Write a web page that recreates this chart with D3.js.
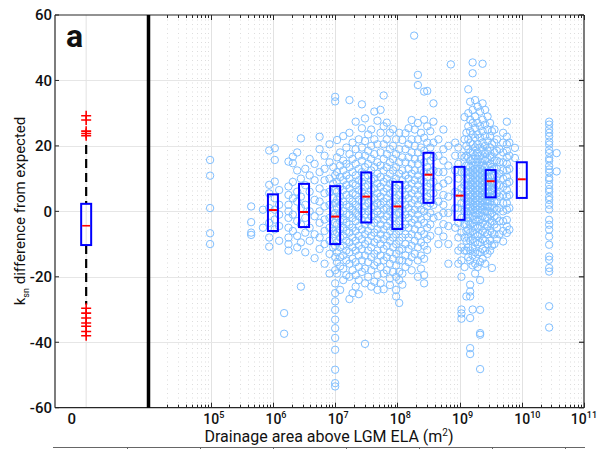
<!DOCTYPE html>
<html>
<head>
<meta charset="utf-8">
<script src="https://cdn.jsdelivr.net/npm/d3@7"></script>
<style>
  html, body { margin: 0; padding: 0; background: #fff; }
  svg { display: block; font-family: Roboto, "DejaVu Sans", sans-serif; }
</style>
</head>
<body>
<svg id="chart" width="598" height="449"></svg>
<script>
// ---- values ----
const yTicks = [-60, -40, -20, 0, 20, 40, 60];
const decadeExps = [5, 6, 7, 8, 9, 10, 11];
const groupLabel = "0";

// all basins: whisker low, Q1, median, Q3, whisker high
const allStats = [-28.5, -10.3, -4.4, 2.3, 20.3];
const allOutliers = [29.2, 27.9, 24.5, 23.8, 23.1, -29.6, -31.1, -32.6, -34.1, -35.1, -36.7, -38.0];

// binned by drainage area (log10 m^2)
const binCentres = [6.0, 6.5, 7.0, 7.5, 8.0, 8.5, 9.0, 9.5, 10.0];
const binQ1 = [-6.0, -4.8, -10.0, -3.4, -5.4, 2.6, -2.6, 4.3, 4.1];
const binMedian = [0.4, -0.2, -1.6, 4.5, 1.5, 11.2, 4.8, 9.2, 9.8];
const binQ3 = [5.2, 8.4, 7.7, 11.9, 9.0, 17.9, 13.6, 12.6, 15.0];

// individual basins: [log10 drainage area, ksn difference values]
const basins5 = [
  [4.99, [15.7, 10.9, 1.0, -6.7, -10.0]],
  [5.65, [1.5, -3.3, -6.5, -7.2]],
  [5.84, [0.5, -5.0]],
  [5.94, [18.6, 8.1, 5.5, 1.0, -3.5, -8.0, -10.8]]
];
const basins6 = [
  [6.03, [19.3, 15.7, 9.1, 4.0, 0.5, -2.5, -5.5]],
  [6.10, [6.5, 2.0, -1.0, -4.5, -9.0]],
  [6.18, [-31.1, -37.4]],
  [6.25, [15.2, 7.6, 5.0, 2.0, 0.0, -2.0, -5.0, -8.0, -10.0, -12.0]],
  [6.32, [16.7, 14.7, 9.0, 4.0, -1.0, -6.0]],
  [6.39, [18.0, 12.5, 6.0, 3.0, -3.0, -7.5, -11.0]],
  [6.45, [22.3, 10.0, 4.5, 1.0, -4.0, -9.5, -23.0]],
  [6.52, [13.0, 8.0, 2.0, -2.0, -6.5, -12.5]],
  [6.59, [16.0, 11.0, 6.0, 0.0, -5.0, -9.0]],
  [6.67, [14.5, 9.5, 3.5, -1.5, -7.0, -14.3]],
  [6.75, [22.8, 19.0, 12.0, 7.0, 3.0, 0.0, -3.5, -8.0, -11.5]],
  [6.83, [17.0, 13.0, 9.5, 5.5, 1.5, -2.5, -6.0, -10.0, -16.0]],
  [6.91, [20.5, 15.0, 10.0, 6.0, 2.0, -2.0, -5.0, -9.0, -13.0, -19.0]],
  [6.97, [13.5, 8.5, 4.0, -1.0, -6.0, -11.0]]
];
const basins7 = [
  [7.00, [35.0, 33.6, 11.0, 6.5, 2.5, -0.5, -3.5, -7.0, -10.5, -14.0, -18.0, -22.0, -25.0, -27.5, -30.1, -33.1, -35.7, -38.7, -42.3, -48.4, -52.5, -53.5]],
  [7.03, [21.8, 16.5, 12.0, 9.0, 6.0, 3.5, 1.0, -1.5, -4.0, -6.5, -9.5, -12.5, -15.5, -19.0]],
  [7.08, [18.0, 14.0, 10.5, 7.5, 4.5, 2.0, -0.5, -3.0, -5.5, -8.0, -11.0, -14.0, -16.8, -24.0]],
  [7.13, [23.0, 15.5, 12.5, 9.5, 6.5, 3.0, 0.0, -2.5, -5.0, -7.5, -10.5, -13.5, -17.5, -21.0]],
  [7.18, [19.5, 14.5, 11.0, 8.0, 5.0, 2.0, -1.0, -3.5, -6.0, -9.0, -12.0, -15.0, -19.5]],
  [7.23, [34.0, 24.0, 17.5, 13.5, 10.0, 7.0, 4.0, 1.5, -1.0, -4.0, -6.5, -9.5, -12.5, -16.0, -20.0, -26.8]],
  [7.28, [21.0, 16.0, 12.0, 8.5, 5.5, 3.0, 0.5, -2.0, -5.0, -8.0, -11.0, -14.5, -18.0, -25.0]],
  [7.33, [27.4, 19.0, 14.5, 11.0, 8.0, 5.0, 2.0, -0.5, -3.0, -6.0, -9.0, -12.0, -15.5, -19.5, -23.0]],
  [7.38, [22.0, 17.0, 13.0, 9.5, 6.5, 3.5, 1.0, -1.5, -4.5, -7.5, -10.5, -13.5, -17.0, -21.0, -25.3]],
  [7.43, [32.7, 25.4, 19.5, 15.5, 12.0, 9.0, 6.0, 3.0, 0.0, -2.5, -5.5, -8.5, -11.5, -15.0, -18.5]],
  [7.48, [28.4, 21.5, 17.0, 13.5, 10.5, 7.5, 4.5, 1.5, -1.0, -4.0, -7.0, -10.0, -13.5, -17.5, -22.0, -40.5]],
  [7.53, [23.5, 18.5, 14.5, 11.0, 8.0, 5.0, 2.5, 0.0, -3.0, -6.0, -9.0, -12.0, -15.5, -20.0]],
  [7.58, [25.0, 20.0, 16.0, 12.5, 9.5, 6.5, 3.5, 1.0, -1.5, -4.5, -7.5, -11.0, -14.0, -18.0, -23.0]],
  [7.63, [30.5, 22.0, 17.5, 13.5, 10.0, 7.0, 4.0, 1.5, -1.0, -3.5, -6.5, -9.5, -13.0, -16.5, -21.5]],
  [7.68, [27.7, 20.5, 15.0, 11.5, 8.5, 5.5, 2.5, 0.0, -2.5, -5.5, -8.5, -12.0, -15.5, -19.5, -24.0]],
  [7.73, [31.0, 24.0, 18.0, 14.0, 10.5, 7.5, 4.5, 2.0, -1.0, -4.0, -7.0, -10.0, -13.5, -17.0, -22.0]],
  [7.78, [35.4, 26.0, 20.5, 16.0, 12.5, 9.0, 6.0, 3.0, 0.5, -2.5, -5.5, -8.5, -11.5, -15.0, -19.0, -23.8]],
  [7.83, [27.1, 22.0, 17.5, 13.5, 10.0, 7.0, 4.0, 1.0, -1.5, -4.5, -7.5, -10.5, -14.0, -18.0]],
  [7.88, [24.0, 19.0, 15.0, 11.5, 8.5, 5.5, 2.5, 0.0, -3.0, -6.0, -9.0, -12.5, -16.0, -20.5, -22.5]],
  [7.93, [25.1, 20.0, 16.0, 12.5, 9.0, 6.0, 3.0, 0.5, -2.0, -5.0, -8.0, -11.0, -14.5, -18.5]],
  [7.98, [22.0, 17.5, 13.5, 10.0, 7.0, 4.0, 1.5, -1.0, -4.0, -7.0, -10.0, -13.0, -16.5, -20.0, -24.0, -26.0]]
];
const basins8 = [
  [8.03, [24.0, 19.0, 15.0, 11.5, 8.0, 5.0, 2.0, -0.5, -3.0, -6.0, -9.0, -12.0, -15.0, -18.5, -21.0, -28.0]],
  [8.08, [21.8, 16.5, 12.5, 9.5, 6.5, 3.5, 0.5, -2.0, -5.0, -8.0, -11.5, -15.0, -19.0, -22.4]],
  [8.13, [23.9, 19.0, 15.0, 11.0, 8.0, 5.0, 2.0, -1.0, -4.0, -7.0, -10.0, -13.5, -17.0]],
  [8.18, [25.4, 20.5, 16.5, 13.0, 10.0, 7.0, 4.0, 1.0, -2.0, -5.0, -8.0, -11.5, -15.5]],
  [8.23, [27.9, 22.0, 18.0, 14.5, 11.5, 8.5, 5.5, 2.5, -0.5, -3.5, -7.0, -10.5, -14.0, -18.0]],
  [8.27, [53.7]],
  [8.28, [25.0, 20.0, 16.0, 12.5, 9.5, 6.5, 3.5, 0.5, -2.5, -5.5, -9.0, -13.0]],
  [8.33, [41.7, 38.6, 27.0, 22.0, 18.0, 14.5, 11.0, 8.0, 5.0, 2.0, -1.0, -4.0, -7.5, -11.0, -15.0, -20.0]],
  [8.38, [24.0, 19.5, 16.0, 12.5, 9.5, 6.5, 3.5, 0.5, -2.5, -6.0, -9.5, -13.5, -17.5]],
  [8.43, [36.6, 28.0, 22.5, 18.5, 15.0, 12.0, 9.0, 6.0, 3.0, 0.0, -3.5, -7.0, -10.5, -14.5, -19.5, -22.0]],
  [8.48, [36.8, 26.0, 21.0, 17.0, 13.5, 10.5, 7.5, 4.5, 1.5, -1.5, -5.0, -8.5, -11.8]],
  [8.53, [24.5, 19.5, 15.5, 12.0, 8.5, 5.5, 2.5, -0.5, -4.0, -7.5]],
  [8.58, [33.0, 27.4, 21.0, 16.5, 12.5, 9.0, 5.5, 2.0, -2.0]],
  [8.66, [22.0, 17.0, 12.0, 7.5, 3.0, -1.5, -6.0, -10.0]],
  [8.74, [25.0, 19.0, 15.5, 12.0, 8.5, 5.0, 2.0, -0.5, -3.9, -7.7]],
  [8.82, [20.0, 14.0, 9.5, 4.5, -0.5, -4.5, -10.0, -16.0]],
  [8.86, [44.9]],
  [8.93, [21.0, 17.0, 12.5, 6.0, 1.0, -5.0]],
  [8.98, [19.5, 14.5, 10.0, 5.5, 1.0, -3.5, -8.0, -12.0, -16.0]]
];
const basins9 = [
  [9.03, [17.0, 12.0, 7.0, 2.5, -2.0, -6.5, -11.0, -15.0, -20.0, -30.0, -31.2, -32.8]],
  [9.08, [28.8, 22.0, 16.5, 12.0, 8.0, 4.0, 0.0, -4.0, -8.0, -12.0, -17.0]],
  [9.11, [24.0, 20.0, 17.0, 14.0, 12.0, 10.0, 8.0, 6.0, 4.0, 2.0, 0.0, -2.0, -4.0, -6.0, -9.0, -12.0, -26.0]],
  [9.14, [37.3, 30.0, 26.0, 22.0, 19.0, 16.5, 14.0, 12.0, 10.0, 8.0, 6.5, 5.0, 3.0, 1.0, -1.0, -3.0, -5.5, -8.0, -11.0, -14.0]],
  [9.17, [33.5, 28.0, 24.5, 21.0, 18.0, 15.5, 13.5, 12.0, 10.5, 9.0, 7.5, 6.0, 4.5, 3.0, 1.5, 0.0, -2.0, -4.0, -6.5, -9.0, -12.0, -15.0, -22.4, -24.5, -26.0, -32.6, -41.8, -43.6]],
  [9.21, [45.5, 42.2, 31.0, 27.0, 23.5, 20.5, 18.0, 16.0, 14.0, 12.5, 11.0, 9.5, 8.0, 6.5, 5.0, 3.5, 2.0, 0.5, -1.5, -3.5, -6.0, -8.5, -11.0, -13.5, -16.5, -30.0]],
  [9.25, [34.0, 29.0, 25.5, 22.5, 19.5, 17.0, 15.0, 13.0, 11.5, 10.0, 8.5, 7.0, 5.5, 4.0, 2.5, 1.0, -0.5, -2.5, -4.5, -7.0, -9.5, -12.5, -16.0, -19.0]],
  [9.29, [32.0, 27.0, 23.5, 20.5, 18.0, 16.0, 14.0, 12.5, 11.0, 9.5, 8.0, 6.5, 5.0, 3.5, 2.0, 0.5, -1.0, -3.0, -5.0, -7.5, -10.0, -13.0, -17.0]],
  [9.33, [30.5, 26.0, 22.5, 19.5, 17.0, 15.0, 13.0, 11.5, 10.0, 8.5, 7.0, 5.5, 4.0, 2.5, 1.0, -0.5, -2.5, -4.5, -7.0, -9.5, -12.5, -15.5, -21.0, -30.1, -37.2, -37.7, -48.2]],
  [9.37, [45.1, 33.0, 28.0, 24.5, 21.0, 18.5, 16.0, 14.0, 12.5, 11.0, 9.5, 8.0, 6.5, 5.0, 3.5, 2.0, 0.5, -1.5, -3.5, -6.0, -8.5, -11.5, -14.5]],
  [9.41, [31.0, 26.5, 23.0, 20.0, 17.5, 15.5, 13.5, 12.0, 10.5, 9.0, 7.5, 6.0, 4.5, 3.0, 1.5, 0.0, -2.0, -4.0, -6.5, -9.0, -12.0, -16.0]],
  [9.45, [29.0, 25.0, 21.5, 18.5, 16.0, 14.0, 12.0, 10.5, 9.0, 7.5, 6.0, 4.5, 3.0, 1.5, 0.0, -2.0, -4.5, -7.0, -10.0, -13.0]],
  [9.49, [27.0, 23.0, 19.5, 17.0, 14.5, 12.5, 10.5, 9.0, 7.5, 6.0, 4.5, 3.0, 1.0, -1.0, -3.5, -6.0, -9.0, -12.0]],
  [9.52, [24.5, 20.5, 16.5, 13.5, 11.0, 8.5, 6.5, 4.0, 2.0, -0.5, -3.0, -6.5, -10.5, -17.3]],
  [9.56, [25.0, 21.0, 18.0, 15.5, 13.0, 11.0, 9.0, 7.0, 5.0, 3.0, 1.0, -1.5, -4.0, -7.0, -10.0]],
  [9.60, [22.0, 18.5, 15.5, 13.0, 10.5, 8.0, 5.5, 3.0, 0.5, -2.0, -5.0, -8.5]],
  [9.64, [19.0, 15.0, 11.5, 8.0, 4.5, 1.0, -3.0, -7.0]],
  [9.70, [24.0, 21.0, 18.0, 15.0, 12.5, 10.0, 7.5, 5.0, 2.5, 0.0, -3.0, -6.0, -9.2]],
  [9.76, [27.4, 22.8, 20.5, 18.5, 16.5, 14.5, 12.5, 10.5, 8.5, 6.5, 4.5, 2.5, 0.5, -2.6, -4.6, -6.6]],
  [9.80, [21.0, 17.0, 13.0, 9.0, 5.0, 1.0, -5.6]],
  [9.89, [19.4, 16.3]]
];
const basins10 = [
  [10.44, [27.4, 26.5, 25.1, 24.0, 22.9, 21.3, 20.4, 18.8, 17.8, 16.2, 15.5, 13.9, 12.8, 11.9, 10.3, 9.6, 8.1, 6.8, 6.0, 4.4, 3.5, 2.0, 0.6, -2.6, -4.1, -5.6, -7.7, -10.2, -13.8, -14.8, -17.3, -18.4, -29.0, -35.5]],
  [10.56, [17.8, 12.2]]
];

// ---- layout ----
const svg = d3.select("#chart");
const W = 598;
const axisLeftX = 55, splitX = 148.5, axisRightX = 584;
const topY = 15, bottomY = 407.7;
const axisColor = "#262626";
const dotColor = "#80bfff";

const y = d3.scaleLinear().domain([-60, 60]).range([bottomY, topY]);
const x = d3.scaleLog().domain([1e4, 1e11]).range([splitX, axisRightX]);
const xg = d3.scaleLinear().domain([-1, 2]).range([axisLeftX, splitX]);

const isDecade = t => Math.abs(Math.log10(t) - Math.round(Math.log10(t))) < 1e-9;
const logTicks = x.ticks();
const minorTicks = logTicks.filter(t => !isDecade(t));
const majorTicks = decadeExps.map(e => Math.pow(10, e));
const px = v => Math.round(v) + 0.5;

// ---- grid ----
const grid = svg.append("g");
grid.selectAll("line.minor").data(minorTicks).join("line")
  .attr("x1", d => px(x(d))).attr("x2", d => px(x(d)))
  .attr("y1", topY).attr("y2", bottomY)
  .attr("stroke", "#d4d4d4").attr("stroke-width", 0.8)
  .attr("stroke-dasharray", "1,3.5");
grid.selectAll("line.major").data(majorTicks.slice(0, -1)).join("line")
  .attr("x1", d => px(x(d))).attr("x2", d => px(x(d)))
  .attr("y1", topY).attr("y2", bottomY)
  .attr("stroke", "#e2e2e2").attr("stroke-width", 1);
grid.selectAll("line.h").data(yTicks.slice(1, -1)).join("line")
  .attr("x1", axisLeftX).attr("x2", axisRightX)
  .attr("y1", d => px(y(d))).attr("y2", d => px(y(d)))
  .attr("stroke", "#e6e6e6").attr("stroke-width", 1);
grid.append("line")
  .attr("x1", xg(0)).attr("x2", xg(0))
  .attr("y1", topY).attr("y2", bottomY)
  .attr("stroke", "#e2e2e2").attr("stroke-width", 1);

// ---- scatter ----
const points = [basins5, basins6, basins7, basins8, basins9, basins10]
  .flat()
  .flatMap(([la, vals]) => vals.map(v => ({ area: Math.pow(10, la), dk: v })));
svg.append("g").selectAll("circle").data(points).join("circle")
  .attr("cx", d => x(d.area))
  .attr("cy", d => y(d.dk))
  .attr("r", 3.7)
  .attr("fill", "none")
  .attr("stroke", dotColor)
  .attr("stroke-width", 1);

// ---- binned boxes ----
const boxW = 10;
const boxes = svg.append("g");
binCentres.forEach((c, i) => {
  const cx = x(Math.pow(10, c));
  boxes.append("rect")
    .attr("x", cx - boxW / 2).attr("width", boxW)
    .attr("y", y(binQ3[i])).attr("height", y(binQ1[i]) - y(binQ3[i]))
    .attr("fill", "none").attr("stroke", "#0000ff").attr("stroke-width", 2);
  boxes.append("line")
    .attr("x1", cx - boxW / 2 + 1).attr("x2", cx + boxW / 2 - 1)
    .attr("y1", y(binMedian[i])).attr("y2", y(binMedian[i]))
    .attr("stroke", "#ff0000").attr("stroke-width", 2);
});

// ---- all-basin box plot ----
const gx = xg(0);
const [wLo, q1, med, q3, wHi] = allStats;
const allG = svg.append("g");
allG.append("line").attr("x1", gx).attr("x2", gx)
  .attr("y1", y(wHi)).attr("y2", y(q3))
  .attr("stroke", "#000").attr("stroke-width", 2.2).attr("stroke-dasharray", "9,5");
allG.append("line").attr("x1", gx).attr("x2", gx)
  .attr("y1", y(q1)).attr("y2", y(wLo))
  .attr("stroke", "#000").attr("stroke-width", 2.2).attr("stroke-dasharray", "9,5");
allG.append("rect")
  .attr("x", gx - boxW / 2).attr("width", boxW)
  .attr("y", y(q3)).attr("height", y(q1) - y(q3))
  .attr("fill", "none").attr("stroke", "#0000ff").attr("stroke-width", 2);
allG.append("line")
  .attr("x1", gx - boxW / 2 + 1).attr("x2", gx + boxW / 2 - 1)
  .attr("y1", y(med)).attr("y2", y(med))
  .attr("stroke", "#ff0000").attr("stroke-width", 1.6);
allG.selectAll("path.out").data(allOutliers).join("path")
  .attr("d", d => `M${gx - 5},${y(d)}H${gx + 5}M${gx},${y(d) - 5}V${y(d) + 5}`)
  .attr("stroke", "#ff0000").attr("stroke-width", 1.6).attr("fill", "none");

// ---- axes / frame ----
const frame = svg.append("g").attr("stroke", axisColor).attr("fill", "none");
frame.append("line").attr("x1", axisLeftX).attr("x2", axisRightX).attr("y1", topY).attr("y2", topY).attr("stroke-width", 1.2);
frame.append("line").attr("x1", axisLeftX).attr("x2", axisRightX).attr("y1", bottomY).attr("y2", bottomY).attr("stroke-width", 1.2);
frame.append("line").attr("x1", axisLeftX).attr("x2", axisLeftX).attr("y1", topY).attr("y2", bottomY).attr("stroke-width", 1.2);
frame.append("line").attr("x1", axisRightX).attr("x2", axisRightX).attr("y1", topY).attr("y2", bottomY).attr("stroke-width", 1.2);
frame.append("line").attr("x1", splitX).attr("x2", splitX).attr("y1", topY).attr("y2", bottomY)
  .attr("stroke", "#000").attr("stroke-width", 3.5);

// right-hand y ticks (inward)
frame.selectAll("line.ry").data(yTicks).join("line")
  .attr("x1", axisRightX).attr("x2", axisRightX - 5)
  .attr("y1", d => y(d)).attr("y2", d => y(d)).attr("stroke-width", 1.2);
// left-hand y ticks (inward)
frame.selectAll("line.ly").data(yTicks).join("line")
  .attr("x1", axisLeftX).attr("x2", axisLeftX + 4)
  .attr("y1", d => y(d)).attr("y2", d => y(d)).attr("stroke-width", 1);

// top and bottom log ticks (inward)
const tickLen = t => isDecade(t) ? 5 : 3;
const logTickSet = logTicks.filter(t => t > 1e4);
frame.selectAll("line.tt").data(logTickSet).join("line")
  .attr("x1", d => px(x(d))).attr("x2", d => px(x(d)))
  .attr("y1", topY).attr("y2", d => topY + tickLen(d)).attr("stroke-width", 1);
frame.selectAll("line.bt").data(logTickSet).join("line")
  .attr("x1", d => px(x(d))).attr("x2", d => px(x(d)))
  .attr("y1", bottomY).attr("y2", d => bottomY - tickLen(d)).attr("stroke-width", 1);

// ---- text ----
const txt = svg.append("g").attr("fill", "#111");
txt.selectAll("text.yl").data(yTicks).join("text")
  .attr("x", axisLeftX - 3).attr("y", d => y(d)).attr("dy", "0.36em")
  .attr("text-anchor", "end").attr("font-size", 15).attr("font-weight", 500)
  .text(d => d);

// decade labels: the "10" sits on its tick, exponent to the right
const dl = txt.selectAll("text.xl").data(decadeExps).join("text")
  .attr("y", 423.5)
  .attr("text-anchor", "start").attr("font-size", 14).attr("font-weight", 500);
dl.append("tspan").text("10");
dl.append("tspan").attr("dy", -6).attr("font-size", 9).text(d => d);
dl.each(function (d) {
  const w = this.getComputedTextLength();
  const x0 = x(Math.pow(10, d)) - 7.5;
  d3.select(this).attr("x", Math.min(x0, W - 1 - w));
});

txt.append("text").attr("x", xg(0) - 14.5).attr("y", 424)
  .attr("text-anchor", "middle").attr("font-size", 15).attr("font-weight", 500)
  .text(groupLabel);

const xLab = txt.append("text").attr("x", 329).attr("y", 441.5)
  .attr("text-anchor", "middle").attr("font-size", 16);
xLab.append("tspan").text("Drainage area above LGM ELA (m");
xLab.append("tspan").attr("dy", -6).attr("font-size", 10).text("2");
xLab.append("tspan").attr("dy", 6).text(")");

const yLab = txt.append("text")
  .attr("transform", "translate(25,211) rotate(-90)")
  .attr("text-anchor", "middle").attr("font-size", 15);
yLab.append("tspan").text("k");
yLab.append("tspan").attr("dy", 4).attr("font-size", 9).text("sn");
yLab.append("tspan").attr("dy", -4).text(" difference from expected");

txt.append("text").attr("x", 66).attr("y", 47)
  .attr("font-size", 32).attr("font-weight", 700).text("a");

// edge of the panel below
const below = svg.append("g").attr("stroke", "#666").attr("stroke-width", 1);
below.append("line").attr("x1", 53).attr("x2", 585).attr("y1", 447.5).attr("y2", 447.5);
below.selectAll("line.m").data([127, 200, 273, 346, 419, 492, 565]).join("line")
  .attr("x1", d => d + 0.5).attr("x2", d => d + 0.5).attr("y1", 447.5).attr("y2", 449);
</script>
</body>
</html>
